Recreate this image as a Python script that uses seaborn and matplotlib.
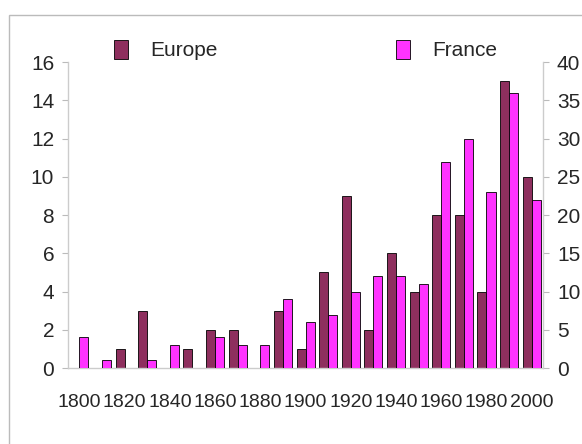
import numpy as np
import pandas as pd
import matplotlib
matplotlib.use("Agg")
import matplotlib.pyplot as plt
import matplotlib.patches as mpatches
import seaborn as sns

# data: one category per decade, missing bars are None
decades = [1800, 1810, 1820, 1830, 1840, 1850, 1860, 1870, 1880, 1890, 1900,
           1910, 1920, 1930, 1940, 1950, 1960, 1970, 1980, 1990, 2000]
europe = [None, None, 1, 3, None, 1, 2, 2, None, 3, 1,
          5, 9, 2, 6, 4, 8, 8, 4, 15, 10]
france = [4, 1, None, 1, 3, None, 4, 3, 3, 9, 6,
          7, 10, 12, 12, 11, 27, 30, 23, 36, 22]
series = ['Europe', 'France']
colors = {'Europe': '#8E2F5E', 'France': '#FF33FF'}

sns.set_style('white')
plt.rcParams['font.family'] = ['Liberation Sans', 'DejaVu Sans']

labels = [str(d) for d in decades]
df_eu = pd.DataFrame({'decade': labels, 'value': europe, 'series': 'Europe'}).dropna()
df_fr = pd.DataFrame({'decade': labels, 'value': france, 'series': 'France'}).dropna()

fig = plt.figure(figsize=(5.82, 4.44), dpi=100)
ax = fig.add_axes([0.117, 0.171, 0.816, 0.689])
ax2 = ax.twinx()

# Europe on the left scale, France on the right scale, dodged side by side
bar_kw = dict(x='decade', y='value', hue='series', order=labels, hue_order=series,
              palette=colors, saturation=1, width=0.8, dodge=True,
              edgecolor='black', linewidth=0.6, legend=False)
sns.barplot(data=df_eu, ax=ax, **bar_kw)
sns.barplot(data=df_fr, ax=ax2, **bar_kw)

ax.set_xlim(-0.5, len(decades) - 0.5)
ax.set_ylim(0, 16)
ax2.set_ylim(0, 40)
ax.set_yticks(range(0, 17, 2))
ax2.set_yticks(range(0, 41, 5))

# ticks between categories, labels every second decade
ax.set_xticks(np.arange(-0.5, len(decades), 1.0))
ax.set_xticklabels([])
ax.set_xticks(range(0, len(decades), 2), minor=True)
ax.set_xticklabels(labels[::2], minor=True)
ax.tick_params(axis='x', which='major', length=4, color='#BBBBBB', width=0.8)
ax.tick_params(axis='x', which='minor', length=0, pad=19, labelsize=14)
ax.tick_params(axis='y', length=4, color='#BBBBBB', width=0.8, labelsize=15, pad=6)
ax2.tick_params(axis='y', length=4, color='#BBBBBB', width=0.8, labelsize=15, pad=6)

for a in (ax, ax2):
    a.set_xlabel('')
    a.set_ylabel('')
    a.grid(False)
    a.spines['top'].set_visible(False)
    for s in ('left', 'right', 'bottom'):
        a.spines[s].set_color('#CCCCCC')
        a.spines[s].set_linewidth(1.0)
ax.spines['right'].set_visible(False)
ax2.spines['left'].set_visible(False)
ax2.spines['bottom'].set_visible(False)

handles = [mpatches.Patch(facecolor=colors[s], edgecolor='black', linewidth=0.6, label=s)
           for s in series]
fig.legend(handles=handles, loc='center left', bbox_to_anchor=(0.196, 0.887),
           ncol=2, frameon=False, fontsize=15, handlelength=0.65, handleheight=1.0,
           handletextpad=1.1, columnspacing=8.55, borderaxespad=0, borderpad=0)

# outer chart border
fig.patches.append(mpatches.Rectangle((9 / 582, -0.1), 1.0, 1.1 - 15 / 444,
                                      transform=fig.transFigure, fill=False,
                                      edgecolor='#BBBBBB', linewidth=1.0))

fig.savefig('out.png', dpi=100)
